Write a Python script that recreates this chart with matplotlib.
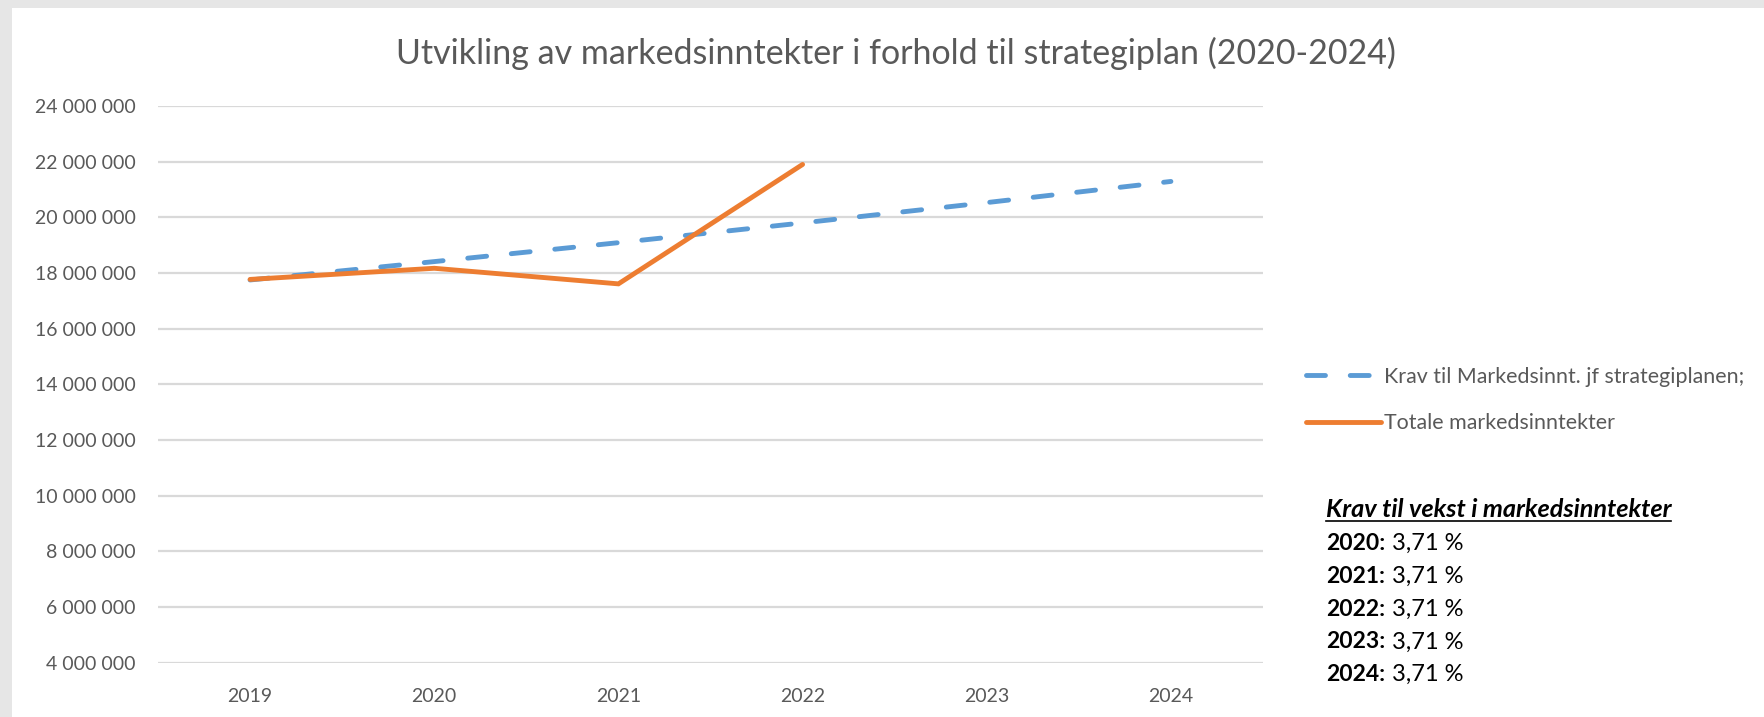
#!/usr/bin/env python3
"""
Utvikling av markedsinntekter i forhold til strategiplan (2020-2024).
"""

import matplotlib.pyplot as plt
from matplotlib.patches import Rectangle
from matplotlib.ticker import FuncFormatter
from matplotlib.lines import Line2D

# Data
years = ["2019", "2020", "2021", "2022", "2023", "2024"]
krav = [17_750_000, 18_410_000, 19_090_000, 19_800_000, 20_530_000, 21_290_000]
totale_years = ["2019", "2020", "2021", "2022"]
totale = [17_770_000, 18_170_000, 17_610_000, 21_900_000]
y_ticks = list(range(4_000_000, 24_000_001, 2_000_000))

vekst_years = ["2020", "2021", "2022", "2023", "2024"]
vekst_values = ["3,71 %", "3,71 %", "3,71 %", "3,71 %", "3,71 %"]

label_krav = "Krav til Markedsinnt. jf strategiplanen;"
label_totale = "Totale markedsinntekter"
title = "Utvikling av markedsinntekter i forhold til strategiplan (2020-2024)"

BLUE = "#5b9bd5"
ORANGE = "#ed7d31"
GREY_TXT = "#595959"
GRID = "#d9d9d9"

W, H = 1765, 717


def fx(px):
    return px / W


def fy(py):
    return 1 - py / H


def main():
    plt.rcParams["font.family"] = ["Lato", "DejaVu Sans"]

    fig = plt.figure(figsize=(W / 100, H / 100), dpi=100)
    fig.patch.set_facecolor("white")

    # textured frame strips (top and left)
    fig.add_artist(Rectangle((0, fy(8)), 1, 8 / H, transform=fig.transFigure,
                             facecolor="#e6e6e6", edgecolor="none"))
    fig.add_artist(Rectangle((0, 0), 12 / W, 1, transform=fig.transFigure,
                             facecolor="#e6e6e6", edgecolor="none"))

    ax = fig.add_axes([fx(158), fy(662.7), fx(1263) - fx(158), fy(106) - fy(662.7)])
    x = list(range(len(years)))
    ax.plot(x, krav, color=BLUE, lw=3.5, dashes=(3.9, 5.1),
            dash_capstyle="round", solid_capstyle="round", label=label_krav, zorder=3)
    ax.plot(x[:len(totale)], totale, color=ORANGE, lw=3.5,
            solid_capstyle="round", solid_joinstyle="miter", label=label_totale, zorder=4)

    ax.set_xlim(-0.5, len(years) - 0.5)
    ax.set_ylim(4_000_000, 24_000_000)
    ax.set_xticks(x)
    ax.set_xticklabels(years)
    ax.set_yticks(y_ticks)
    ax.yaxis.set_major_formatter(FuncFormatter(lambda v, p: f"{int(v):,}".replace(",", " ")))
    ax.grid(axis="y", color=GRID, lw=1.6)
    ax.set_axisbelow(True)
    for s in ax.spines.values():
        s.set_visible(False)
    ax.tick_params(length=0, labelsize=14, labelcolor=GREY_TXT)
    ax.tick_params(axis="y", pad=16)
    ax.tick_params(axis="x", pad=18)

    fig.text(fx(896), fy(53), title, ha="center", va="center",
             fontsize=24.5, color=GREY_TXT)

    # legend
    handles = [Line2D([], [], color=BLUE, lw=3.5, dashes=(3.9, 5.1), dash_capstyle="round"),
               Line2D([], [], color=ORANGE, lw=3.5, solid_capstyle="round")]
    fig.legend(handles, [label_krav, label_totale], loc="center left",
               bbox_to_anchor=(fx(1287), fy(400)), frameon=False,
               fontsize=15.4, labelcolor=GREY_TXT, handlelength=3.5,
               handletextpad=0.15, labelspacing=1.25)

    # growth requirement box
    head = fig.text(fx(1326), fy(517), "Krav til vekst i markedsinntekter", ha="left",
                    va="baseline", fontsize=18.2, fontweight="bold", fontstyle="italic",
                    color="black")
    fig.canvas.draw()
    bb = head.get_window_extent().transformed(fig.transFigure.inverted())
    fig.add_artist(Line2D([bb.x0, bb.x1], [fy(521), fy(521)],
                          transform=fig.transFigure, color="black", lw=1.2))
    for i, (yr, val) in enumerate(zip(vekst_years, vekst_values)):
        yb = 550 + i * 32.8
        fig.text(fx(1326), fy(yb), yr + ":", ha="left", va="baseline",
                 fontsize=16.5, fontweight="bold", color="black")
        fig.text(fx(1392), fy(yb), val, ha="left", va="baseline",
                 fontsize=17, color="black")

    fig.savefig("out.png", dpi=100)


if __name__ == "__main__":
    main()
